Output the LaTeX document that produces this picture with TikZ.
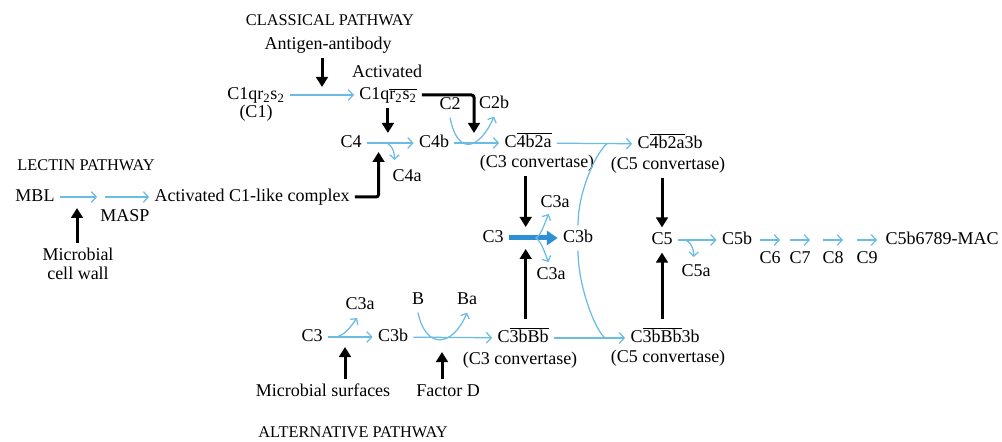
\documentclass[tikz,border=0pt]{standalone}
\usepackage{fontspec}
\setmainfont{Liberation Serif}
\usepackage{tikz}
\usetikzlibrary{arrows.meta,calc,positioning}
\definecolor{cBlue}{HTML}{6BBCE2}
\definecolor{cDeep}{HTML}{2E8FD3}
\newcommand{\ovl}[1]{$\overline{\mbox{#1}}$}
\tikzset{
  every node/.style={font=\fontsize{10.8}{11}\selectfont},
  lbl/.style={inner sep=3pt, text height=1.6ex, text depth=0.3ex},
  pathtag/.style={font=\fontsize{9.8}{12}\selectfont},
  cascade/.style={-{Straight Barb[length=3pt,width=6.4pt]}, line width=0.75pt, draw=cBlue},
  cleave/.style={-{Straight Barb[length=2.6pt,width=5.6pt]}, line width=0.75pt, draw=cBlue},
  branch/.style={line width=0.75pt, draw=cBlue},
  trigger/.style={-{Triangle[length=6pt,width=7pt]}, line width=1.8pt, draw=black},
  bigflow/.style={-{Triangle[length=6.5pt,width=8.5pt]}, line width=3pt, draw=cDeep},
}

\begin{document}
\begin{tikzpicture}[x=0.6pt, y=-0.6pt]
  \useasboundingbox (0,0) rectangle (1002,442);

  % ── Classical pathway ──
  \node[pathtag] (classical) at (330,20) {CLASSICAL PATHWAY};
  \node[lbl] (agab)    at (328,45)  {Antigen-antibody};
  \node[lbl] (c1)      at (256,95)  {C1qr\textsubscript{2}s\textsubscript{2}};
  \node[lbl] (c1name)  at (256,113) {(C1)};
  \node[lbl] (actword) at (387,73)  {Activated};
  \node[lbl] (c1act)   at (388,95)  {C1q\ovl{r\textsubscript{2}s\textsubscript{2}}};
  \draw[cascade] (c1) -- (c1act) coordinate[pos=0.5] (c1mid);
  \coordinate (agtip) at ($(c1mid)+(0,-8)$);
  \draw[trigger] (agab.south -| agtip) -- (agtip);

  \node[lbl] (c2)  at (450,105) {C2};
  \node[lbl] (c2b) at (494,104) {C2b};
  \coordinate (c2tip) at (474,133);
  \draw[trigger, rounded corners=1.5pt] (c1act.east) -| (c2tip);
  \draw[cleave] (c2.south) .. controls +(8,40) and +(-14,32) .. (c2b.south);

  % ── C4 cleavage ──
  \node[lbl] (c4)  at (351,143) {C4};
  \node[lbl] (c4b) at (434,143) {C4b};
  \node[lbl] (c4a) at (407,177) {C4a};
  \draw[cascade] (c4) -- (c4b) coordinate[pos=0.25] (c4split) coordinate[pos=0.45] (c4in);
  \coordinate (c4intip) at ($(c4in)+(0,-10)$);
  \coordinate (c4atip)  at ($(c4split)+(16,17)$);
  \coordinate (c4uptip) at ($(c4split)+(0,9)$);
  \draw[trigger] (c1act.south -| c4in) -- (c4intip);
  \draw[cleave] (c4split) .. controls +(12,-3) and +(0,-10) .. (c4atip);

  % ── Lectin pathway ──
  \node[pathtag] (lectin) at (86,165) {LECTIN PATHWAY};
  \node[lbl] (mbl)     at (35,197)  {MBL};
  \node[inner sep=0pt, minimum width=4.2pt] (mgap) at (101,197) {};
  \node[lbl] (masp)    at (125,217) {MASP};
  \node[lbl] (complex) at (252,197) {Activated C1-like complex};
  \node[align=center]  (mcwall) at (78,264) {Microbial\\cell wall};
  \coordinate (mcwtip) at (77,208);
  \draw[cascade] (mbl) -- (mgap);
  \draw[cascade] (mgap) -- (complex);
  \draw[trigger] (mcwall.north -| mcwtip) -- (mcwtip);
  \draw[trigger, rounded corners=1.5pt] (complex.east) -| (c4uptip);

  % ── C3 convertase (classical) and C5 convertase ──
  \node[lbl] (c4b2a)   at (528,143) {C\ovl{4b2a}};
  \node[lbl] (c3convA) at (537,163) {(C3 convertase)};
  \node[lbl] (c4b2a3b) at (670,144) {C\ovl{4b2a}3b};
  \node[lbl] (c5convA) at (668,165) {(C5 convertase)};
  \draw[cascade] (c4b) -- (c4b2a);
  \draw[cascade] (c4b2a) -- (c4b2a3b) coordinate[pos=0.67] (topjoin);

  % ── C3 cleavage ──
  \node[lbl] (c3)    at (493,238) {C3};
  \node[lbl] (c3b)   at (578,238) {C3b};
  \node[lbl] (c3aup) at (555,203) {C3a};
  \node[lbl] (c3adn) at (551,275) {C3a};
  \draw[bigflow] (c3) -- (c3b) coordinate[pos=0.55] (c3split);
  \coordinate (c3atipA) at ($(c3split)+(13,-24)$);
  \coordinate (c3atipB) at ($(c3split)+(13,24)$);
  \draw[cleave] (c3split) .. controls +(6,-3) and +(-3,6) .. (c3atipA);
  \draw[cleave] (c3split) .. controls +(6,3) and +(-3,-6) .. (c3atipB);
  \coordinate (c3downtip) at ($(c3split)+(-10,-11)$);
  \coordinate (c3uptip)   at ($(c3split)+(-10,11)$);
  \draw[trigger] (c3convA.south -| c3downtip) -- (c3downtip);

  % ── C3b joins both convertases ──
  \draw[branch] (c3b.north) .. controls +(0,-37) and +(-9,6) .. (topjoin);

  % ── C5 cleavage and MAC ──
  \node[lbl] (c5)  at (662,240) {C5};
  \node[lbl] (c5b) at (737,240) {C5b};
  \node[lbl] (c5a) at (696,272) {C5a};
  \node[lbl] (mac) at (942,240) {C5b6789-MAC};
  \draw[cascade] (c5) -- (c5b) coordinate[pos=0.05] (c5split);
  \coordinate (c5atip) at ($(c5split)+(14,17)$);
  \draw[cleave] (c5split) .. controls +(10,-2) and +(0,-9) .. (c5atip);
  \draw[trigger] (c5convA.south -| c5) -- (c5.north);
  \foreach \k/\x in {6/770, 7/800, 8/833, 9/867} {
    \coordinate (s\k) at (\x-10,240);
    \coordinate (e\k) at (\x+10,240);
    \draw[cascade] (s\k) -- (e\k);
    \node[lbl] (c\k) at (\x,259) {C\k};
  }

  % ── Alternative pathway ──
  \node[lbl] (altc3)  at (312,337) {C3};
  \node[lbl] (altc3b) at (393,337) {C3b};
  \node[lbl] (altc3a) at (360,305) {C3a};
  \node[lbl] (fb)     at (418,300) {B};
  \node[lbl] (fba)    at (467,300) {Ba};
  \node[lbl] (msurf)  at (323,392) {Microbial surfaces};
  \node[lbl] (factd)  at (448,392) {Factor D};
  \node[lbl] (c3bBb)  at (523,338) {C\ovl{3bBb}};
  \node[lbl] (c3convB) at (520,360) {(C3 convertase)};
  \node[lbl] (c3bBb3b) at (665,338) {C\ovl{3bBb}3b};
  \node[lbl] (c5convB) at (668,358) {(C5 convertase)};
  \node[pathtag] (alternative) at (353,432) {ALTERNATIVE PATHWAY};
  \draw[cascade] (altc3) -- (altc3b) coordinate[pos=0.14] (altsplit);
  \coordinate (alttip) at ($(altsplit)+(23,-19)$);
  \draw[cleave] (altsplit) .. controls +(10,0) and +(-6,8) .. (alttip);
  \coordinate (mstip) at (345,347);
  \draw[trigger] (msurf.north -| mstip) -- (mstip);
  \draw[cascade] (altc3b) -- (c3bBb);
  \draw[cleave] (fb.south) .. controls +(8,38) and +(-14,34) .. (fba.south);
  \coordinate (fdtip) at (442,352);
  \draw[trigger] (factd.north -| fdtip) -- (fdtip);
  \draw[cascade] (c3bBb) -- (c3bBb3b) coordinate[pos=0.72] (botjoin);
  \draw[trigger] ($(c3bBb.north -| c3uptip)+(0,-6)$) -- (c3uptip);
  \draw[trigger] ($(c3bBb3b.north -| c5)+(0,-6)$) -- (c5.south);
  \draw[branch] (c3b.south) .. controls +(0,37) and +(-9,-6) .. (botjoin);
\end{tikzpicture}
\end{document}
